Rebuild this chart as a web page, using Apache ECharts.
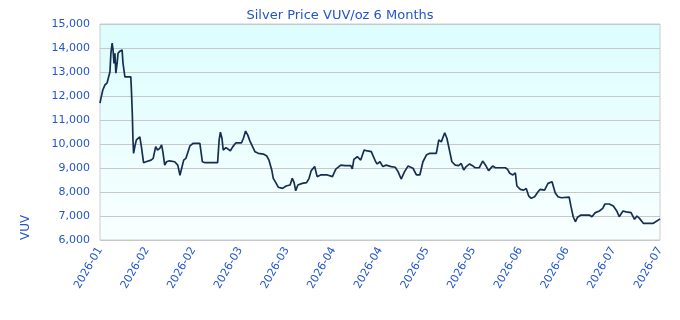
<!DOCTYPE html>
<html>
<head>
<meta charset="utf-8">
<script src="https://cdn.jsdelivr.net/npm/echarts@6/dist/echarts.min.js"></script>
<style>
  html, body { margin: 0; padding: 0; background: #fff; }
  #chart { width: 680px; height: 320px; }
</style>
</head>
<body>
<div id="chart"></div>
<script>
// days since start of the 6 month window, and the price on that day (VUV/oz)
var days = [0, 0.3, 0.9, 1.6, 2.3, 2.8, 3.2, 3.5, 3.9, 4.2, 4.5, 4.8, 5.1, 5.5, 5.8, 6.4, 7.1, 7.4, 8.0, 9.9,
  10.1, 10.4, 10.6, 10.8, 11.3, 11.7, 12.3, 12.8, 13.3, 14.0, 14.8, 16.4, 17.1, 17.9, 18.5, 19.2, 19.8, 20.2, 20.8, 21.4,
  22.3, 24.0, 25.0, 25.7, 26.9, 27.6, 28.3, 28.9, 30.0, 32.1, 32.9, 33.8, 37.8, 38.3, 38.7, 39.2, 39.6, 40.5, 41.1, 41.9,
  42.7, 43.7, 45.5, 46.1, 46.8, 47.5, 48.2, 48.8, 49.8, 50.9, 52.5, 53.6, 54.3, 55.2, 55.7, 56.5, 57.3, 58.7, 59.8, 61.1,
  61.8, 62.4, 62.9, 63.6, 65.0, 66.4, 67.2, 67.9, 69.0, 69.8, 70.9, 73.1, 74.7, 75.8, 77.4, 78.8, 80.6, 81.1, 81.6, 82.7,
  83.8, 84.9, 85.9, 87.2, 88.6, 89.1, 90.0, 90.9, 92.0, 93.6, 94.9, 95.8, 96.8, 97.9, 99.0, 100.6, 101.7, 102.8, 103.8, 104.9,
  106.0, 108.1, 108.9, 109.7, 110.8, 111.5, 112.2, 113.1, 114.2, 115.3, 116.1, 116.9, 117.7, 118.8, 119.9, 120.6, 121.9, 123.0, 124.1, 124.9,
  126.2, 127.1, 130.3, 131.0, 131.7, 132.7, 133.5, 134.0, 135.1, 136.2, 137.0, 137.8, 138.6, 139.7, 140.8, 141.5, 142.9, 144.0, 145.3, 145.8,
  146.3, 147.2, 148.3, 150.8, 151.4, 152.1, 152.8, 153.5, 154.6, 157.3, 158.1, 159.2, 160.5, 161.6, 162.3, 163.7, 165.0, 166.1, 166.9, 168.1,
  169.1, 170.7, 171.8, 172.6, 173.4, 174.7, 177.7, 178.6, 179.8, 180];
var prices = [11700, 11900, 12250, 12460, 12550, 12550, 13010, 13780, 14200, 13920, 13360, 13780, 12950, 13360, 13780, 13870, 13920, 13360, 12800, 12800,
  12250, 11210, 10170, 9610, 9960, 10170, 10240, 10300, 9890, 9220, 9260, 9330, 9400, 9890, 9750, 9820, 9960, 9680, 9120, 9260,
  9300, 9260, 9120, 8700, 9330, 9400, 9680, 9920, 10030, 10030, 9260, 9220, 9220, 10170, 10490, 10240, 9750, 9850, 9890, 9720,
  9890, 10050, 10050, 10240, 10540, 10370, 10120, 10090, 9680, 9610, 9580, 9500, 9330, 8920, 8570, 8390, 8200, 8150, 8250, 8290,
  8570, 8390, 8050, 8290, 8360, 8390, 8570, 8890, 9060, 8640, 8710, 8710, 8640, 8950, 9120, 9100, 9100, 8960, 9360, 9470,
  9330, 9750, 9710, 9680, 9260, 9170, 9260, 9060, 9120, 9060, 9030, 8850, 8540, 8850, 9080, 8990, 8710, 8710, 9260, 9540,
  9610, 9610, 10170, 10090, 10470, 10240, 9820, 9260, 9120, 9100, 9190, 8920, 9060, 9170, 9080, 9010, 9010, 9290, 9080, 8890,
  9080, 9010, 9010, 8940, 8780, 8710, 8800, 8250, 8110, 8080, 8150, 7830, 7740, 7800, 8010, 8110, 8080, 8360, 8430, 8500,
  7970, 7800, 7760, 7790, 7390, 6970, 6760, 6950, 7040, 7040, 6970, 7140, 7210, 7320, 7500, 7500, 7420, 7210, 6970, 7210,
  7170, 7140, 6860, 7000, 6900, 6690, 6690, 6760, 6860, 6880];

// x tick labels, one every 15 days
var xTickLabels = ['2026-01', '2026-02', '2026-02', '2026-03', '2026-03', '2026-04', '2026-04',
  '2026-05', '2026-05', '2026-06', '2026-06', '2026-07', '2026-07'];

var textBlue = '#2255cc';
var font = 'DejaVu Sans';

var points = [];
for (var i = 0; i < days.length; i++) {
  points.push([days[i], prices[i]]);
}

var myChart = echarts.init(document.getElementById('chart'));
var option = {
  animation: false,
  title: {
    text: 'Silver Price VUV/oz 6 Months',
    left: 'center',
    top: 4,
    textStyle: { color: textBlue, fontSize: 13, fontWeight: 'normal', fontFamily: font }
  },
  graphic: [{
    type: 'text',
    x: 26,
    y: 240,
    rotation: Math.PI / 2,
    style: {
      text: 'VUV',
      fill: textBlue,
      font: '12px "DejaVu Sans"',
      textAlign: 'left',
      textVerticalAlign: 'middle'
    }
  }],
  grid: {
    left: 100,
    right: 20,
    top: 24,
    bottom: 80,
    show: true,
    borderColor: '#cccccc',
    borderWidth: 1,
    backgroundColor: new echarts.graphic.LinearGradient(0, 0, 0, 1, [
      { offset: 0, color: '#dcfdfe' },
      { offset: 1, color: '#f9ffff' }
    ])
  },
  xAxis: {
    type: 'value',
    min: 0,
    max: 180,
    interval: 15,
    axisLine: { show: false },
    axisTick: { show: false },
    splitLine: { show: false },
    axisLabel: {
      color: textBlue,
      fontFamily: font,
      fontSize: 11,
      rotate: 60,
      margin: 8,
      formatter: function (v) { return xTickLabels[Math.round(v / 15)]; }
    }
  },
  yAxis: {
    type: 'value',
    min: 6000,
    max: 15000,
    interval: 1000,
    axisLine: { show: false },
    axisTick: { show: false },
    splitLine: { lineStyle: { color: '#c8c8c8', width: 1 } },
    axisLabel: { color: textBlue, fontFamily: font, fontSize: 11, margin: 10 }
  },
  series: [{
    type: 'line',
    data: points,
    symbol: 'none',
    lineStyle: { color: '#162f50', width: 1.7 }
  }]
};
myChart.setOption(option);
</script>
</body>
</html>
